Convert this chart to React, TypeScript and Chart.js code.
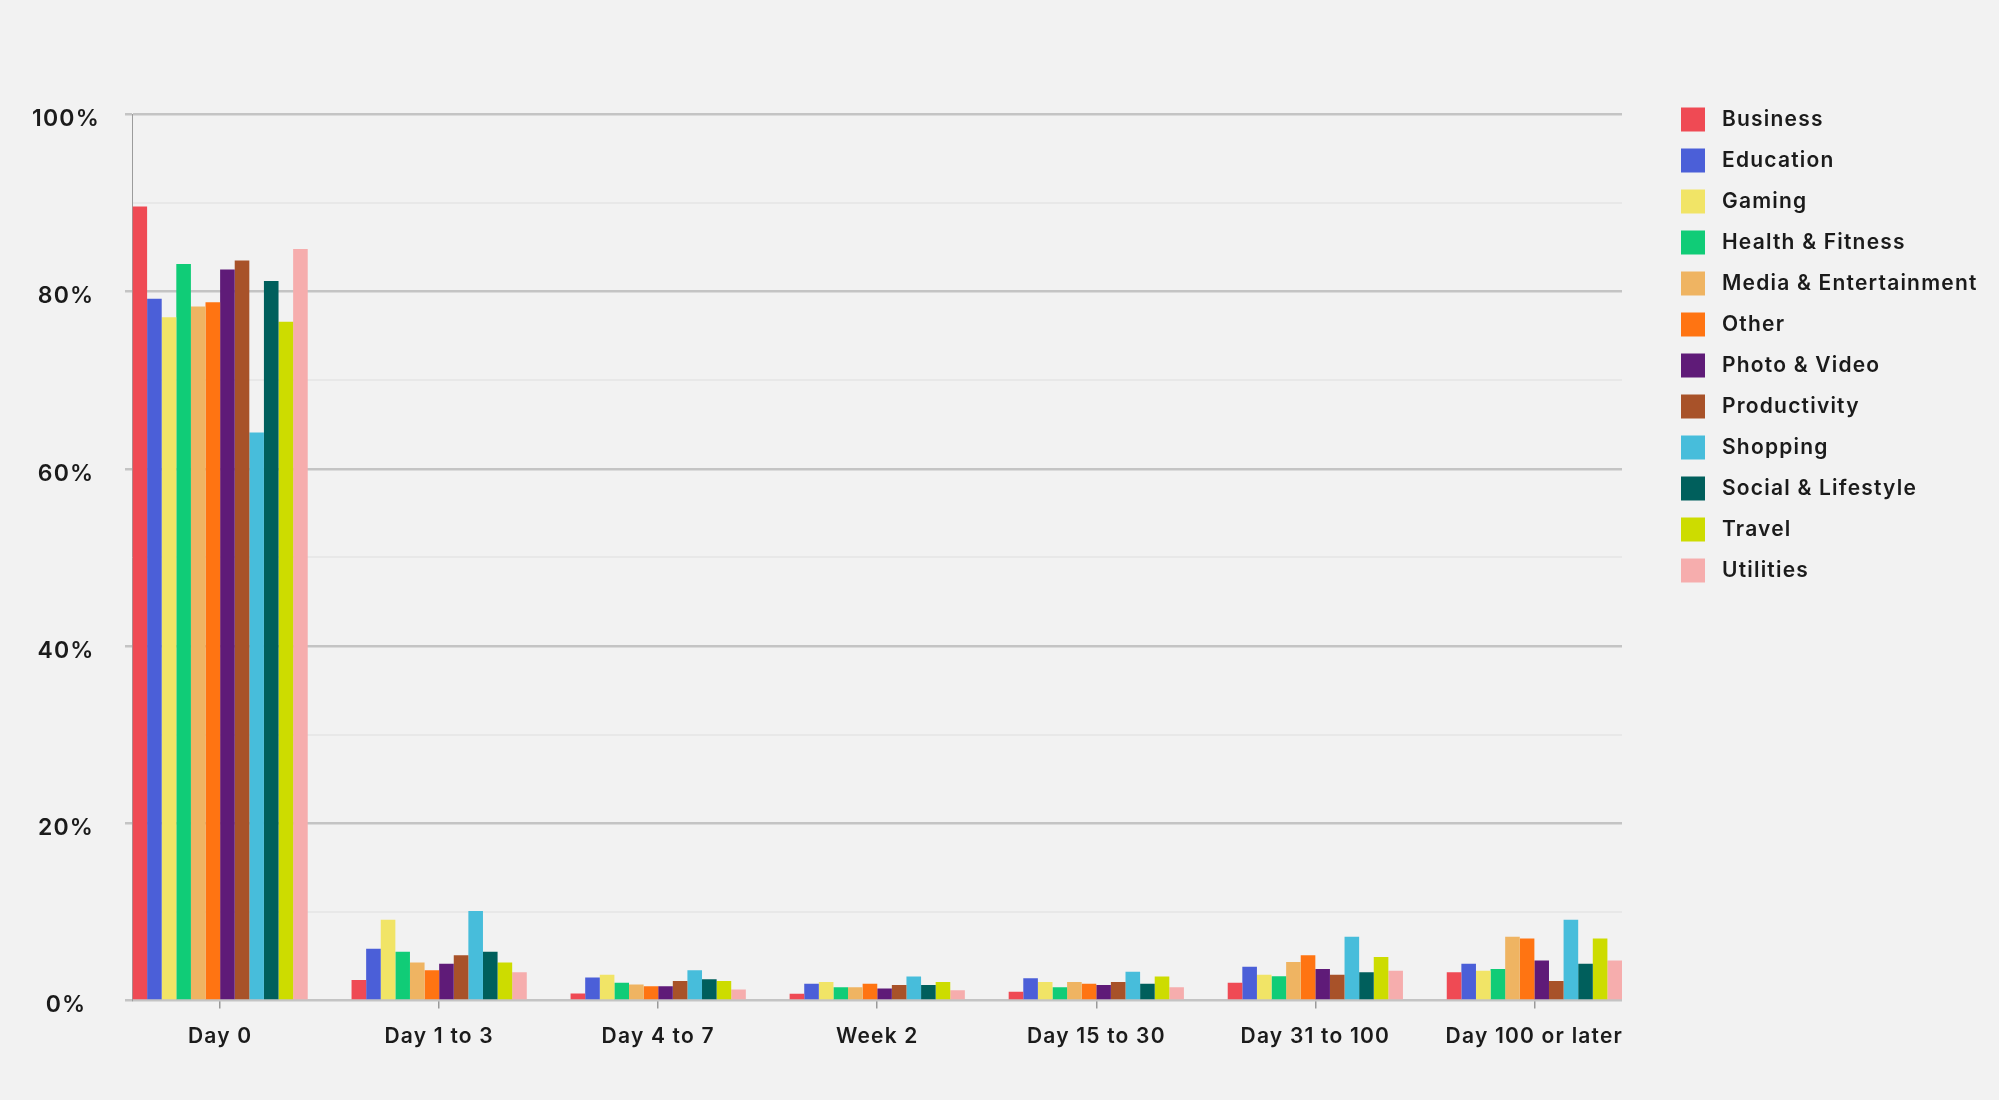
import React, { useEffect, useRef } from "react";
import { Chart, registerables } from "chart.js";

Chart.register(...registerables);

// retention period buckets (x axis)
const periods = ["Day 0", "Day 1 to 3", "Day 4 to 7", "Week 2", "Day 15 to 30", "Day 31 to 100", "Day 100 or later"];

// share of users per period, in %, one array per app category
const business = [89.6, 2.3, 0.8, 0.75, 1.0, 2.0, 3.2];
const education = [79.2, 5.85, 2.6, 1.9, 2.5, 3.8, 4.15];
const gaming = [77.1, 9.1, 2.9, 2.1, 2.1, 2.9, 3.35];
const healthFitness = [83.1, 5.5, 2.0, 1.5, 1.5, 2.75, 3.55];
const mediaEntertainment = [78.3, 4.3, 1.8, 1.5, 2.1, 4.35, 7.2];
const other = [78.8, 3.4, 1.6, 1.9, 1.9, 5.1, 7.0];
const photoVideo = [82.5, 4.15, 1.6, 1.35, 1.75, 3.55, 4.5];
const productivity = [83.5, 5.1, 2.2, 1.75, 2.1, 2.9, 2.2];
const shopping = [64.1, 10.1, 3.4, 2.7, 3.25, 7.2, 9.1];
const socialLifestyle = [81.2, 5.5, 2.4, 1.75, 1.9, 3.2, 4.15];
const travel = [76.6, 4.3, 2.2, 2.1, 2.7, 4.9, 7.0];
const utilities = [84.8, 3.2, 1.25, 1.15, 1.5, 3.35, 4.5];

const categories = [
    "Business", "Education", "Gaming", "Health & Fitness", "Media & Entertainment", "Other",
    "Photo & Video", "Productivity", "Shopping", "Social & Lifestyle", "Travel", "Utilities",
];
const series = [
    business, education, gaming, healthFitness, mediaEntertainment, other,
    photoVideo, productivity, shopping, socialLifestyle, travel, utilities,
];
const colors = [
    "#ef4a54", "#4b5fd8", "#f1e466", "#10cc77", "#efb462", "#ff7412",
    "#5f1b78", "#a85229", "#47bddb", "#005f5c", "#cddc00", "#f6adad",
];

const FONT = "Inter, 'Noto Sans', sans-serif";
const TEXT = "#1b1b1b";
const TRACKING = "1.2px";

// the original lettering is wider than Inter, so add a little tracking to the canvas text
const textTracking = {
    id: "textTracking",
    beforeUpdate(chart: any) {
        chart.ctx.letterSpacing = TRACKING;
    },
    beforeDraw(chart: any) {
        chart.ctx.letterSpacing = TRACKING;
    },
};

// legend sits a bit further right of the plot than chart.js puts it
const legendOffset = {
    id: "legendOffset",
    afterLayout(chart: any) {
        const legend = chart.legend;
        if (legend) {
            legend.left += 42;
            legend.right = chart.width;
            legend.width = legend.right - legend.left;
        }
    },
};

const RetentionChart: React.FC = () => {
    const canvasRef = useRef<HTMLCanvasElement | null>(null);
    const chartRef = useRef<Chart | null>(null);

    useEffect(() => {
        if (chartRef.current) {
            chartRef.current.destroy();
        }
        if (!canvasRef.current) return;

        chartRef.current = new Chart(canvasRef.current, {
            type: "bar",
            data: {
                labels: periods.map((_, i) => i),
                datasets: categories.map((name, i) => ({
                    label: name,
                    data: series[i],
                    backgroundColor: colors[i],
                    borderColor: colors[i],
                    borderWidth: 0,
                    barPercentage: 1,
                    categoryPercentage: 0.8,
                })),
            },
            options: {
                responsive: true,
                maintainAspectRatio: false,
                animation: false,
                layout: {
                    padding: { top: 90.5, left: 0, right: 177, bottom: 0 },
                },
                plugins: {
                    tooltip: { enabled: false },
                    legend: {
                        position: "right",
                        align: "start",
                        maxWidth: 200,
                        labels: {
                            boxWidth: 24,
                            boxHeight: 24,
                            padding: 17,
                            color: TEXT,
                            font: { family: FONT, size: 21, weight: 600 },
                            generateLabels: (chart) =>
                                Chart.defaults.plugins.legend.labels
                                    .generateLabels(chart)
                                    .map((item) => ({ ...item, text: " " + item.text })),
                        },
                    },
                },
                scales: {
                    x: {
                        type: "linear",
                        offset: false,
                        min: -0.4,
                        max: periods.length - 0.6,
                        afterBuildTicks: (axis) => {
                            axis.ticks = periods.map((_, i) => ({ value: i }));
                        },
                        afterFit: (axis) => {
                            axis.height = 99.5;
                            axis.paddingLeft = 0;
                            axis.paddingRight = 0;
                        },
                        grid: {
                            offset: false,
                            drawOnChartArea: false,
                            drawTicks: true,
                            tickLength: 8,
                            color: "#9a9a9a",
                            lineWidth: 1.5,
                        },
                        border: { display: false },
                        ticks: {
                            callback: (v) => periods[v as number],
                            padding: 15.4,
                            maxRotation: 0,
                            autoSkip: false,
                            color: TEXT,
                            font: { family: FONT, size: 21, weight: 600 },
                        },
                    },
                    y: {
                        min: 0,
                        max: 100,
                        afterFit: (axis) => {
                            axis.width = 132.5;
                            axis.paddingTop = 114.3;
                        },
                        ticks: {
                            stepSize: 10,
                            // empty first line drops the label a few px under its grid line, as in the original
                            callback: (v) => ((v as number) % 20 === 0 ? ["", `${v}%`] : ""),
                            crossAlign: "center",
                            padding: 25,
                            color: TEXT,
                            font: { family: FONT, size: 23, weight: 600, lineHeight: "10px" },
                        },
                        grid: {
                            color: (ctx) => (ctx.tick && ctx.tick.value % 20 === 0 ? "#c4c4c4" : "#e8e8e8"),
                            lineWidth: (ctx) => (ctx.tick && ctx.tick.value % 20 === 0 ? 2.5 : 2),
                            tickColor: (ctx) => (ctx.tick && ctx.tick.value % 20 === 0 ? "#c4c4c4" : "rgba(0,0,0,0)"),
                            tickLength: 7.5,
                        },
                        border: { display: true, color: "#9c9c9c", width: 1 },
                    },
                },
            },
            plugins: [textTracking, legendOffset],
        });

        return () => {
            if (chartRef.current) {
                chartRef.current.destroy();
                chartRef.current = null;
            }
        };
    }, []);

    return (
        <div style={{ width: 1999, height: 1100, background: "#f2f2f2" }}>
            <canvas ref={canvasRef} />
        </div>
    );
};

export default function App() {
    return (
        <>
            <style>{"body{margin:0;background:#f2f2f2}"}</style>
            <RetentionChart />
        </>
    );
}
